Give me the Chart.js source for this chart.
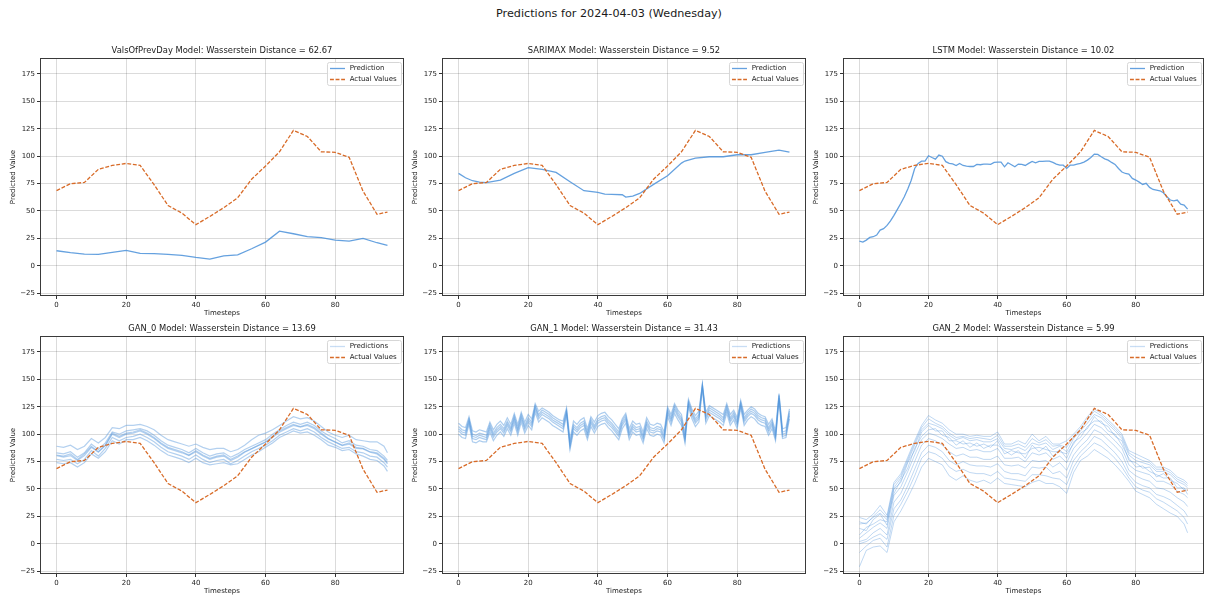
<!DOCTYPE html>
<html>
<head>
<meta charset="utf-8">
<script src="https://cdn.jsdelivr.net/npm/chart.js@4.4.1/dist/chart.umd.min.js"></script>
<style>
  html, body { margin: 0; padding: 0; background: #fff; overflow: hidden; }
  body { width: 1205px; height: 596px; position: relative; font-family: "DejaVu Sans", sans-serif; }
  #suptitle { position: absolute; left: 0; top: 7px; width: 1218px; text-align: center; font-size: 11.2px; color: #1a1a1a; }
  canvas { position: absolute; }
</style>
</head>
<body>
<div id="suptitle">Predictions for 2024-04-03 (Wednesday)</div>
<canvas id="c0" width="406" height="278" style="left:0;top:40px"></canvas>
<canvas id="c1" width="406" height="278" style="left:402px;top:40px"></canvas>
<canvas id="c2" width="402" height="278" style="left:803px;top:40px"></canvas>
<canvas id="c3" width="406" height="278" style="left:0;top:318px"></canvas>
<canvas id="c4" width="406" height="278" style="left:402px;top:318px"></canvas>
<canvas id="c5" width="402" height="278" style="left:803px;top:318px"></canvas>
<script>
// ── axes
const xTicks = [0, 20, 40, 60, 80];
const yTicks = [-25, 0, 25, 50, 75, 100, 125, 150, 175];

// ── x positions
const hourSteps = [0, 4, 8, 12, 16, 20, 24, 28, 32, 36, 40, 44, 48, 52, 56, 60, 64, 68, 72, 76, 80, 84, 88, 92, 95];
const timesteps = [0, 1, 2, 3, 4, 5, 6, 7, 8, 9, 10, 11, 12, 13, 14, 15, 16, 17, 18, 19, 20, 21, 22, 23, 24, 25, 26, 27, 28, 29, 30, 31, 32, 33, 34, 35, 36, 37, 38, 39, 40, 41, 42, 43, 44, 45, 46, 47, 48, 49, 50, 51, 52, 53, 54, 55, 56, 57, 58, 59, 60, 61, 62, 63, 64, 65, 66, 67, 68, 69, 70, 71, 72, 73, 74, 75, 76, 77, 78, 79, 80, 81, 82, 83, 84, 85, 86, 87, 88, 89, 90, 91, 92, 93, 94, 95];
const ganSteps = [0, 2, 4, 6, 8, 10, 12, 14, 16, 18, 20, 22, 24, 26, 28, 30, 32, 34, 36, 38, 40, 42, 44, 46, 48, 50, 52, 54, 56, 58, 60, 62, 64, 66, 68, 70, 72, 74, 76, 78, 80, 82, 84, 86, 88, 90, 92, 94, 95];
const sarimaxSteps = [0, 2, 4, 6, 8, 12, 16, 20, 24, 28, 32, 36, 40, 42, 44, 47, 48, 50, 52, 56, 60, 64, 65, 68, 72, 76, 80, 84, 88, 92, 95];

// ── series
const actualValues = [68.5, 74.9, 76, 88, 91.6, 93.4, 91.6, 74, 55, 48, 37.5, 45, 53, 62, 79, 91, 104, 123.5, 118, 104, 103.5, 99, 68, 47, 49];
const prevDayPred = [13.7, 11.9, 10.7, 10.3, 12.2, 14, 11.3, 11, 10.3, 9.4, 7.6, 6.1, 9.1, 10, 15.5, 21.6, 31.6, 29.2, 26.5, 25.6, 23.4, 22.5, 25, 21, 18.6];
const sarimaxPred = [84.3, 80.3, 77.6, 76.4, 75.8, 78.2, 84.3, 89.5, 88, 85.2, 76.7, 68.5, 67, 65.4, 65.1, 64.8, 62.7, 63.6, 66, 74.3, 82.2, 93.7, 95.6, 98.3, 99.5, 99.5, 101.3, 101.3, 103.5, 105.6, 103.8];
const lstmPred = [22.5, 21.6, 23.4, 25.9, 26.5, 28, 32.5, 33.8, 36.8, 41, 46, 51.4, 57, 63, 70, 78, 88.8, 93.4, 95.5, 95.5,
  100.4, 98.8, 97.3, 101, 100, 95, 93.4, 93, 91.5, 93.4, 91.5, 91, 90.6, 90.6, 92.5, 92.2, 92.8, 92.8, 92.5, 94.3,
  94.6, 94.6, 90.3, 94, 92.2, 90.3, 92.8, 92.5, 91.5, 93.4, 95.2, 94, 95.2, 95.2, 95.5, 95.5, 94.3, 92.8, 91.8, 91.8,
  88.8, 91.8, 91.8, 92.8, 93.4, 94.6, 96.4, 98.8, 101.9, 101.6, 99.5, 97.6, 96.4, 94.3, 92.5, 88.8, 85.5, 84.2, 83.6, 79.7,
  78.2, 76.3, 74.2, 75.2, 71.5, 69.6, 69, 68.4, 66.6, 63, 60, 59.3, 60, 56.3, 55.4, 51.7];

// GAN_0 ensemble (every 2nd step)
const gan0Runs = [
  [89, 88, 90, 86, 89, 96, 92, 97, 106, 105, 108, 108, 109, 107, 104, 99, 95, 93, 91, 89, 91, 88, 86, 87, 87, 84, 86, 90, 95, 99, 101, 104, 108, 112, 116, 114, 115, 112, 107, 102, 99, 97, 99, 95, 94, 93, 93, 89, 83],
  [83, 82, 84, 79, 83, 91, 86, 92, 102, 100, 103, 104, 105, 103, 99, 94, 90, 88, 86, 83, 87, 83, 80, 82, 83, 79, 82, 86, 89, 92, 95, 100, 104, 108, 111, 109, 111, 108, 103, 99, 96, 92, 94, 90, 89, 86, 85, 80, 76],
  [81, 80, 82, 77, 82, 89, 84, 90, 101, 98, 101, 102, 104, 101, 97, 92, 88, 86, 84, 81, 85, 81, 78, 80, 81, 77, 80, 84, 87, 90, 93, 98, 103, 106, 109, 107, 109, 106, 101, 96, 93, 90, 92, 88, 87, 84, 83, 78, 74],
  [80.5, 79, 80.5, 76, 80.5, 88, 83.5, 89.6, 100, 97, 100, 101, 103, 100, 96, 91, 87, 85, 83, 80.5, 84, 80, 77, 79, 80, 76, 79, 83.5, 86.6, 89.6, 92.7, 97, 101.8, 105, 108, 106.4, 108, 105, 100, 95.7, 92.7, 89.6, 91, 87, 86.6, 83.5, 82, 77, 73],
  [77, 76, 77, 73, 77, 85, 80, 87, 97, 94, 97, 98, 100, 97, 93, 88, 84, 82, 80, 77, 81, 77, 74, 76, 77, 73, 76, 80, 84, 87, 90, 94, 99, 102, 105, 103, 105, 102, 97, 93, 90, 87, 88, 84, 83, 80, 79, 74, 70],
  [74, 73, 74, 70, 74, 82, 78, 84, 94, 91, 95, 95, 97, 94, 90, 85, 81, 79, 77, 74, 78, 74, 72, 73, 74, 72, 73, 77, 81, 84, 88, 92, 97, 100, 103, 101, 102, 99, 95, 90, 88, 85, 86, 82, 80, 77, 76, 71, 66],
];

// GAN_1 ensemble (every step)
const gan1Runs = [
  [110, 107, 106, 116, 103, 102, 104, 103, 102, 111, 104, 109, 112, 108, 115, 109, 119, 109, 120, 111, 118, 114, 128, 121, 124, 122, 120, 117, 115, 113, 112, 124, 95, 112, 109, 113, 115, 105, 116, 111, 117, 119, 120, 116, 113, 109, 105, 114, 119, 105, 112, 109, 110, 102, 115, 109, 108, 110, 109, 102, 125, 118, 128, 122, 118, 101, 132, 123, 117, 121, 146, 120, 126, 124, 122, 120, 118, 128, 118, 122, 115, 131, 118, 122, 125, 123, 119, 117, 116, 109, 114, 103, 137, 105, 106, 123],
  [107, 104, 103, 114, 100, 99, 101, 100, 99, 109, 101, 106, 109, 105, 112, 106, 117, 106, 118, 108, 115, 111, 126, 118, 122, 120, 118, 115, 113, 111, 109, 122, 92, 109, 106, 110, 112, 102, 114, 108, 114, 116, 117, 113, 110, 106, 102, 112, 117, 102, 109, 106, 107, 99, 112, 106, 105, 107, 106, 99, 123, 115, 126, 120, 115, 98, 130, 121, 114, 118, 145, 117, 124, 122, 120, 118, 115, 126, 115, 120, 112, 129, 115, 120, 123, 121, 117, 115, 114, 106, 112, 100, 136, 102, 103, 121],
  [105, 102, 101, 113, 98, 97, 99, 98, 97, 107, 99, 104, 107, 103, 110, 104, 115, 104, 116, 106, 113, 109, 125, 116, 120, 118, 116, 113, 111, 109, 107, 121, 90, 107, 104, 108, 110, 100, 112, 106, 112, 114, 115, 111, 108, 104, 100, 110, 115, 100, 107, 104, 105, 97, 110, 104, 103, 105, 104, 97, 121, 113, 124, 118, 113, 96, 129, 119, 112, 116, 145, 115, 122, 120, 118, 116, 113, 124, 113, 118, 110, 128, 113, 118, 121, 119, 115, 113, 112, 104, 110, 98, 135, 100, 101, 119],
  [103, 100, 99, 111, 96, 95, 97, 96, 95, 105, 97, 102, 105, 101, 108, 102, 113, 102, 114, 104, 111, 107, 123, 114, 118, 116, 114, 111, 109, 107, 105, 119, 88, 105, 102, 106, 108, 98, 110, 104, 110, 112, 113, 109, 106, 102, 98, 108, 113, 98, 105, 102, 103, 95, 108, 102, 101, 103, 102, 95, 119, 111, 122, 116, 111, 94, 127, 117, 110, 114, 143, 113, 120, 118, 116, 114, 111, 122, 111, 116, 108, 126, 111, 116, 119, 117, 113, 111, 110, 102, 108, 96, 133, 98, 99, 117],
  [100, 97, 96, 109, 93, 92, 94, 93, 93, 102, 94, 99, 102, 98, 105, 99, 110, 99, 111, 101, 108, 104, 120, 111, 115, 113, 111, 108, 106, 104, 102, 117, 86, 102, 99, 103, 105, 95, 107, 101, 107, 109, 110, 106, 103, 99, 95, 105, 110, 95, 102, 99, 100, 92, 105, 99, 98, 100, 99, 92, 116, 108, 119, 113, 108, 92, 125, 114, 107, 111, 141, 110, 117, 115, 113, 111, 108, 119, 108, 113, 105, 124, 108, 113, 116, 114, 110, 108, 107, 99, 105, 94, 131, 96, 97, 114],
];

// GAN_2 ensemble (every 2nd step)
const gan2Runs = [
  [24, 22, 27, 35, 26, 56, 64, 79, 94, 108, 117, 113, 110, 104, 100, 100, 98, 99, 98, 98, 102, 91, 91, 94, 91, 100, 94, 98, 91, 91, 94, 100, 107, 116, 123, 119, 113, 107, 100, 85, 82, 79, 76, 70, 70, 67, 61, 58, 55],
  [20, 18, 25, 31, 24, 54, 62, 77, 92, 106, 114, 110, 107, 101, 97, 98, 96, 97, 96, 95, 99, 89, 89, 91, 88, 96, 92, 95, 89, 90, 88, 98, 105, 113, 121, 117, 111, 105, 98, 83, 79, 76, 74, 68, 68, 65, 59, 56, 53],
  [18, 19, 24, 28, 22, 51, 60, 75, 90, 104, 110, 108, 105, 99, 95, 97, 94, 95, 93, 93, 96, 87, 86, 88, 85, 92, 90, 92, 86, 89, 84, 96, 103, 110, 118, 115, 109, 103, 96, 81, 76, 74, 72, 66, 66, 63, 57, 54, 51],
  [14, 12, 22, 27, 17, 50, 56, 74, 85, 102, 108, 103, 103, 94, 94, 91, 92, 89, 91, 88, 94, 82, 85, 83, 82, 87, 88, 86, 84, 84, 82, 91, 101, 105, 116, 110, 107, 98, 94, 76, 74, 69, 70, 61, 64, 58, 55, 49, 49],
  [8, 15, 18, 22, 20, 46, 58, 69, 87, 98, 104, 105, 99, 97, 90, 94, 88, 92, 87, 90, 90, 85, 81, 85, 78, 90, 84, 89, 80, 86, 78, 93, 97, 107, 112, 112, 103, 100, 90, 78, 70, 71, 66, 63, 60, 60, 51, 51, 45],
  [5, 10, 15, 19, 14, 44, 52, 66, 81, 95, 101, 99, 96, 91, 87, 88, 85, 86, 84, 84, 87, 78, 78, 79, 75, 83, 81, 83, 77, 80, 74, 87, 94, 101, 109, 106, 100, 94, 87, 72, 67, 65, 63, 57, 57, 54, 48, 45, 42],
  [2, 4, 10, 14, 8, 38, 46, 60, 75, 90, 96, 94, 90, 84, 80, 82, 79, 79, 77, 77, 80, 72, 71, 72, 69, 76, 75, 76, 70, 74, 67, 81, 89, 95, 104, 101, 95, 89, 82, 67, 62, 59, 57, 51, 50, 47, 42, 38, 34],
  [0, 2, 6, 9, 4, 32, 40, 53, 68, 83, 90, 88, 84, 76, 72, 75, 72, 71, 71, 70, 73, 66, 64, 64, 62, 70, 69, 70, 64, 66, 60, 76, 84, 90, 98, 95, 89, 83, 75, 63, 56, 53, 51, 45, 43, 40, 35, 30, 25],
  [-8, -2, 3, 5, -3, 26, 36, 48, 62, 78, 84, 82, 78, 70, 66, 68, 65, 64, 64, 62, 66, 60, 59, 58, 57, 63, 63, 62, 60, 59, 54, 70, 80, 86, 92, 89, 84, 78, 70, 60, 52, 49, 47, 41, 38, 34, 30, 24, 18],
  [-21, -6, -3, -2, -8, 20, 30, 42, 55, 70, 78, 75, 72, 62, 58, 62, 58, 56, 58, 55, 60, 55, 54, 53, 52, 56, 58, 55, 55, 52, 46, 65, 76, 80, 86, 82, 78, 72, 65, 57, 48, 45, 42, 36, 32, 28, 25, 18, 10],
];

const PRED_COLOR = "rgba(74,144,217,0.85)";
const LEGEND_RUN_COLOR = "rgba(74,144,217,0.3)";
const ACT_COLOR = "#d86b28";
const ACT_DASH = [3.9, 1.7];
const FONT = '"DejaVu Sans", sans-serif';

const pts = (xs, ys) => ys.map((y, i) => ({ x: xs[i], y }));

function actualSet() {
  return {
    label: "Actual Values",
    data: pts(hourSteps, actualValues),
    borderColor: ACT_COLOR,
    borderDash: ACT_DASH,
    borderWidth: 1.3,
    order: 0,
  };
}

function predSet(xs, ys) {
  return { label: "Prediction", data: pts(xs, ys), borderColor: PRED_COLOR, borderWidth: 1.3, order: 1 };
}

function runSets(xs, runs, alpha, width) {
  return runs.map((r) => ({
    label: "Predictions",
    data: pts(xs, r),
    borderColor: `rgba(74,144,217,${alpha})`,
    borderWidth: width,
    order: 1,
  }));
}

// titles, axis labels, frame and legend in matplotlib style
function decor(title, legend) {
  return {
    id: "decor",
    afterDatasetsDraw(chart) {
      const { ctx, chartArea: a } = chart;
      ctx.save();
      ctx.strokeStyle = "#3a3a3a";
      ctx.lineWidth = 1;
      ctx.strokeRect(a.left + 0.5, a.top + 0.5, a.right - a.left - 1, a.bottom - a.top - 1);

      ctx.font = `7px ${FONT}`;
      const textW = Math.max(...legend.map((l) => ctx.measureText(l.label).width));
      const w = 22.7 + textW + 4.3;
      const h = 23;
      const x0 = a.right - 3 - w;
      const y0 = a.top + 4;
      ctx.beginPath();
      ctx.roundRect(x0 + 0.5, y0 + 0.5, w, h, 2);
      ctx.fillStyle = "rgba(255,255,255,0.85)";
      ctx.fill();
      ctx.strokeStyle = "#d6d6d6";
      ctx.stroke();
      legend.forEach((l, i) => {
        const cy = y0 + 6.5 + i * 11;
        ctx.beginPath();
        ctx.setLineDash(l.dash || []);
        ctx.strokeStyle = l.color;
        ctx.lineWidth = 1.3;
        ctx.moveTo(x0 + 3, cy);
        ctx.lineTo(x0 + 18, cy);
        ctx.stroke();
        ctx.setLineDash([]);
        ctx.fillStyle = "#222";
        ctx.textBaseline = "middle";
        ctx.textAlign = "left";
        ctx.fillText(l.label, x0 + 22.7, cy);
      });
      ctx.restore();
    },
    afterDraw(chart) {
      const { ctx, chartArea: a } = chart;
      const cx = (a.left + a.right) / 2;
      ctx.save();
      ctx.fillStyle = "#1a1a1a";
      ctx.textAlign = "center";
      ctx.textBaseline = "middle";
      ctx.font = `8.4px ${FONT}`;
      ctx.fillText(title, cx, a.top - 7);
      ctx.font = `7px ${FONT}`;
      ctx.fillText("Timesteps", cx, a.bottom + 17);
      ctx.translate(a.left - 27, (a.top + a.bottom) / 2);
      ctx.rotate(-Math.PI / 2);
      ctx.fillText("Predicted Value", 0, 0);
      ctx.restore();
    },
  };
}

const gridStyle = { color: "rgba(0,0,0,0.14)", lineWidth: 1, tickColor: "#333", tickLength: 3 };
const tickFont = { family: FONT, size: 7 };

function makeChart(id, title, datasets, legend, padRight) {
  new Chart(document.getElementById(id), {
    type: "line",
    data: { datasets },
    options: {
      responsive: false,
      animation: false,
      events: [],
      elements: { point: { radius: 0 }, line: { tension: 0 } },
      layout: { padding: { top: 18, right: padRight, left: 0, bottom: 0 } },
      plugins: { legend: { display: false }, tooltip: { enabled: false }, title: { display: false } },
      scales: {
        x: {
          type: "linear",
          min: -4.75,
          max: 99.75,
          grid: gridStyle,
          border: { display: false },
          afterBuildTicks: (s) => { s.ticks = xTicks.map((v) => ({ value: v })); },
          afterFit: (s) => { s.height = 22; },
          ticks: { font: tickFont, color: "#222", padding: 2, maxRotation: 0 },
        },
        y: {
          type: "linear",
          min: -27.6,
          max: 189.6,
          grid: gridStyle,
          border: { display: false },
          afterBuildTicks: (s) => { s.ticks = yTicks.map((v) => ({ value: v })); },
          afterFit: (s) => { s.width = 40; },
          ticks: {
            font: tickFont,
            color: "#222",
            padding: 2,
            callback: (v) => (v < 0 ? "\u2212" + Math.abs(v) : String(v)),
          },
        },
      },
    },
    plugins: [decor(title, legend)],
  });
}

const singleLegend = [
  { label: "Prediction", color: PRED_COLOR },
  { label: "Actual Values", color: ACT_COLOR, dash: ACT_DASH },
];
const runLegend = [
  { label: "Predictions", color: LEGEND_RUN_COLOR },
  { label: "Actual Values", color: ACT_COLOR, dash: ACT_DASH },
];

makeChart("c0", "ValsOfPrevDay Model: Wasserstein Distance = 62.67",
  [actualSet(), predSet(hourSteps, prevDayPred)], singleLegend, 2);
makeChart("c1", "SARIMAX Model: Wasserstein Distance = 9.52",
  [actualSet(), predSet(sarimaxSteps, sarimaxPred)], singleLegend, 2);
makeChart("c2", "LSTM Model: Wasserstein Distance = 10.02",
  [actualSet(), predSet(timesteps, lstmPred)], singleLegend, 1);
makeChart("c3", "GAN_0 Model: Wasserstein Distance = 13.69",
  [actualSet(), ...runSets(ganSteps, gan0Runs, 0.42, 1.2)], runLegend, 2);
makeChart("c4", "GAN_1 Model: Wasserstein Distance = 31.43",
  [actualSet(), ...runSets(timesteps, gan1Runs, 0.45, 1.2)], runLegend, 2);
makeChart("c5", "GAN_2 Model: Wasserstein Distance = 5.99",
  [actualSet(), ...runSets(ganSteps, gan2Runs, 0.35, 1)], runLegend, 1);
</script>
</body>
</html>
